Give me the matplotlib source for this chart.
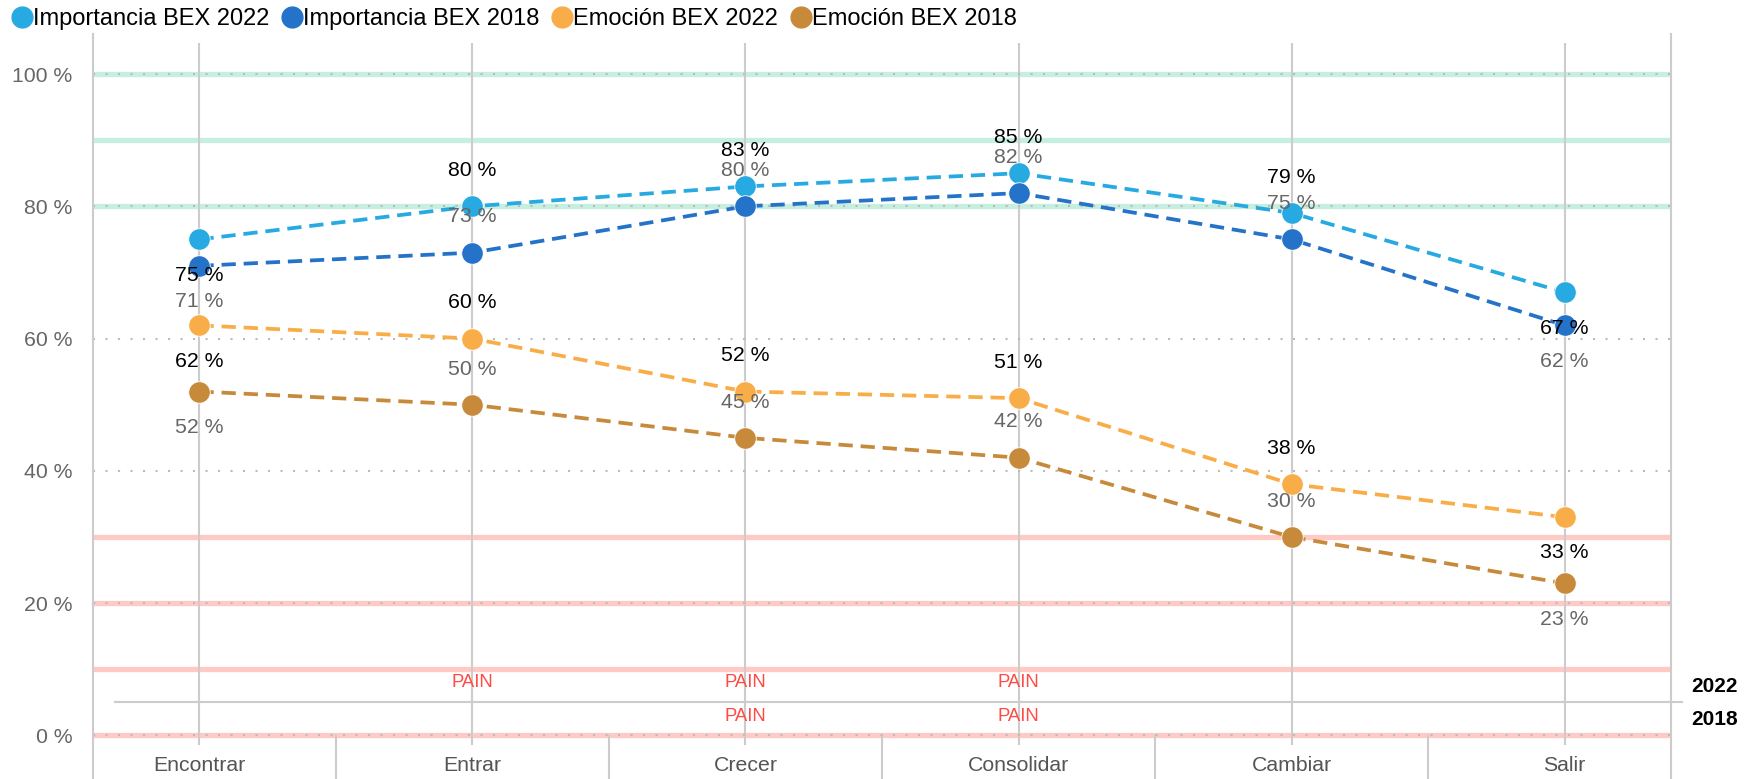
import matplotlib.pyplot as plt
from matplotlib.lines import Line2D

plt.rcParams['font.family'] = ['Liberation Sans', 'DejaVu Sans']

# data
etapas = ["Encontrar", "Entrar", "Crecer", "Consolidar", "Cambiar", "Salir"]
importancia_2022 = [75, 80, 83, 85, 79, 67]
importancia_2018 = [71, 73, 80, 82, 75, 62]
emocion_2022 = [62, 60, 52, 51, 38, 33]
emocion_2018 = [52, 50, 45, 42, 30, 23]
pain_2022 = [False, True, True, True, False, False]
pain_2018 = [False, False, True, True, False, False]
y_ticks = [0, 20, 40, 60, 80, 100]

# label placement: above (+1) or below (-1) the point
label_dir = [-1, 1, 1, 1, 1, -1]

series = [
    ("Importancia BEX 2022", importancia_2022, "#27aae1", "black"),
    ("Importancia BEX 2018", importancia_2018, "#2473c9", "#666666"),
    ("Emoción BEX 2022", emocion_2022, "#f8ad48", "black"),
    ("Emoción BEX 2018", emocion_2018, "#c78a3b", "#666666"),
]

fig = plt.figure(figsize=(17.58, 7.79), dpi=100)
ax = fig.add_axes([93 / 1758, 0, 1578 / 1758, 745 / 779])
x = list(range(len(etapas)))
ax.set_xlim(-0.39, len(etapas) - 1 + 0.39)
ax.set_ylim(-6.58, 106.05)

# coloured bands
for yb in [100, 90, 80]:
    ax.axhline(yb, color="#c6efdf", lw=3.8, zorder=1)
for yb in [30, 20, 10, 0]:
    ax.axhline(yb, color="#ffc9c6", lw=3.8, zorder=1)
# dotted grid
for yt in y_ticks:
    ax.axhline(yt, color="#bbbbbb", lw=1.5, ls=(0, (1, 5)), zorder=2)

# category lines and band separators
ax.vlines(x, -1.5, 104.7, color="#cccccc", lw=1.5, zorder=1)
ax.vlines([i + 0.5 for i in x[:-1]], -6.6, 0, color="#cccccc", lw=1.5, zorder=1)
ax.plot([-0.31, 5.43], [5, 5], color="#cccccc", lw=1.5, clip_on=False, zorder=2)

for name, vals, col, lcol in series:
    ax.plot(x, vals, color=col, lw=2.7, ls=(0, (3.8, 2.1)), zorder=3)
    ax.plot(x, vals, 'o', color=col, ms=15.5, mec="white", mew=0.6, zorder=4)
    for i, v in enumerate(vals):
        ax.text(i, v + 5.4 * label_dir[i], f"{v} %", ha="center", va="center",
                fontsize=15.3, color=lcol, zorder=5)

for i in x:
    if pain_2022[i]:
        ax.text(i, 8.0, "PAIN", ha="center", va="center", fontsize=13.3, color="#ff4a45")
    if pain_2018[i]:
        ax.text(i, 2.9, "PAIN", ha="center", va="center", fontsize=13.3, color="#ff4a45")

ax.text(5.465, 7.4, "2022", ha="left", va="center", fontsize=15, fontweight="bold", clip_on=False)
ax.text(5.465, 2.4, "2018", ha="left", va="center", fontsize=15, fontweight="bold", clip_on=False)

# axes styling
for s in ["top", "bottom"]:
    ax.spines[s].set_visible(False)
for s in ["left", "right"]:
    ax.spines[s].set_color("#cccccc")
    ax.spines[s].set_linewidth(1.5)
ax.set_yticks(y_ticks, [f"{t} %" for t in y_ticks])
ax.tick_params(axis="y", length=0, pad=15, labelsize=15.3, labelcolor="#666666")
ax.set_xticks([])
for i, e in enumerate(etapas):
    ax.text(i, -4.6, e, ha="center", va="center", fontsize=15.3, color="#555555")

handles = [Line2D([], [], ls="none", marker="o", ms=15, color=c) for _, _, c, _ in series]
fig.legend(handles, [s[0] for s in series], loc="center left", bbox_to_anchor=(0.004, 0.975),
           ncol=4, frameon=False, fontsize=17, handlelength=0.9, handletextpad=0.02,
           columnspacing=0.5, borderaxespad=0, borderpad=0.2)

fig.savefig("out.png", dpi=100)
